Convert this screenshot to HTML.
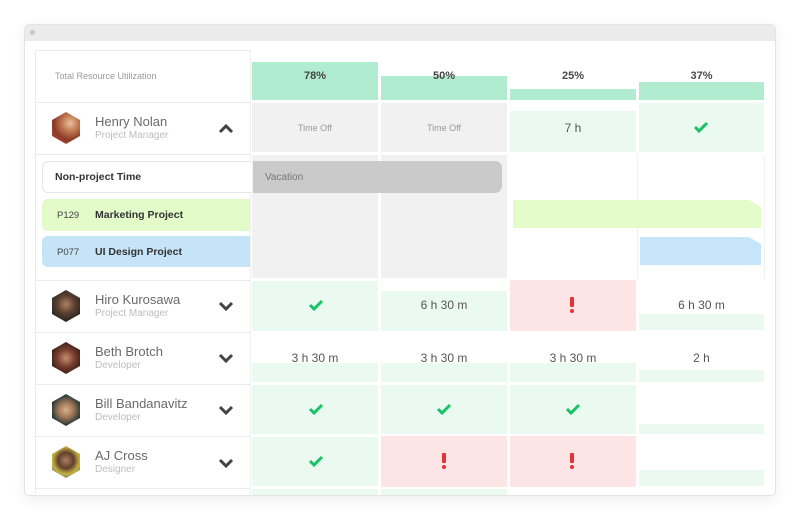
<!DOCTYPE html>
<html><head><meta charset="utf-8">
<style>
*{margin:0;padding:0;box-sizing:border-box}
html,body{width:800px;height:521px;background:#fff;overflow:hidden;font-family:"Liberation Sans",sans-serif}
.win{position:absolute;left:24px;top:24px;width:752px;height:472px;border:1px solid #e4e4e4;border-radius:5px;box-shadow:0 4px 14px rgba(0,0,0,0.07);overflow:hidden;background:#fff}
.tb{position:absolute;left:0;top:0;width:100%;height:16px;background:#ebebeb}
.dot{position:absolute;left:5px;top:5px;width:5px;height:5px;border-radius:50%;background:#c9c9c9}
.a{position:absolute}
.t{position:absolute;white-space:nowrap}
.hline{position:absolute;left:35px;width:215px;height:1px;background:#ebebeb}
.name{position:absolute;left:95px;font-size:13px;color:#6a6a6a}
.role{position:absolute;left:95px;font-size:10px;color:#bdbdbd}
.hex{position:absolute;left:52px;width:28px;height:32px;clip-path:polygon(50% 0,100% 25%,100% 75%,50% 100%,0 75%,0 25%)}
.g{background:#eafaf1}
.r{background:#fde5e5}
.gr{background:#f1f1f1}
.bar{background:#b1ecd1}
.ctxt{position:absolute;text-align:center;font-size:12px;color:#555}
</style></head><body>
<div class="win">
 <div class="tb"><div class="dot"></div></div>
</div>
<!-- left panel borders -->
<div class="a" style="left:35px;top:50px;width:215px;height:1px;background:#ebebeb"></div>
<div class="a" style="left:35px;top:50px;width:1px;height:446px;background:#ebebeb"></div>
<div class="a" style="left:250px;top:50px;width:1px;height:446px;background:#f0f0f0"></div>
<div class="hline" style="top:102px"></div>
<div class="hline" style="top:154px"></div>
<div class="hline" style="top:280px"></div>
<div class="hline" style="top:332px"></div>
<div class="hline" style="top:384px"></div>
<div class="hline" style="top:436px"></div>
<div class="hline" style="top:488px"></div>

<div class="t" style="left:55px;top:71px;font-size:9px;color:#9a9a9a">Total Resource Utilization</div>

<!-- header bars -->
<div class="a bar" style="left:252px;top:62px;width:126px;height:38px"></div>
<div class="a bar" style="left:381px;top:76px;width:126px;height:24px"></div>
<div class="a bar" style="left:510px;top:89px;width:126px;height:11px"></div>
<div class="a bar" style="left:639px;top:82px;width:125px;height:18px"></div>
<div class="t" style="left:252px;width:126px;top:70px;text-align:center;font-size:11px;font-weight:bold;color:#444">78%</div>
<div class="t" style="left:381px;width:126px;top:70px;text-align:center;font-size:11px;font-weight:bold;color:#444">50%</div>
<div class="t" style="left:510px;width:126px;top:70px;text-align:center;font-size:11px;font-weight:bold;color:#4a4a4a">25%</div>
<div class="t" style="left:639px;width:125px;top:70px;text-align:center;font-size:11px;font-weight:bold;color:#4a4a4a">37%</div>

<!-- Henry row -->
<div class="hex" style="top:112px;background:radial-gradient(circle at 65% 35%,#e8c0a0 0,#c07850 30%,#8a3a28 60%,#d05040 100%)"></div>
<div class="name" style="top:114px">Henry Nolan</div>
<div class="role" style="top:130px">Project Manager</div>
<svg class="a" style="left:218px;top:123px" width="16" height="11"><polyline points="2,9 8,3 14,9" fill="none" stroke="#444" stroke-width="3"/></svg>

<div class="a gr" style="left:252px;top:103px;width:126px;height:49px"></div>
<div class="a gr" style="left:381px;top:103px;width:126px;height:49px"></div>
<div class="t" style="left:252px;width:126px;top:123px;text-align:center;font-size:9px;color:#999">Time Off</div>
<div class="t" style="left:381px;width:126px;top:123px;text-align:center;font-size:9px;color:#999">Time Off</div>
<div class="a g" style="left:510px;top:111px;width:126px;height:41px"></div>
<div class="ctxt" style="left:510px;width:126px;top:121px">7 h</div>
<div class="a g" style="left:639px;top:103px;width:125px;height:49px"></div>
<svg class="a" style="left:693px;top:121px" width="16" height="12"><polyline points="2,6 6,10 14,2" fill="none" stroke="#1ac265" stroke-width="3"/></svg>

<!-- expanded area -->
<div class="a gr" style="left:252px;top:155px;width:126px;height:123px"></div>
<div class="a gr" style="left:381px;top:155px;width:126px;height:123px"></div>
<div class="a" style="left:637px;top:155px;width:1px;height:123px;background:#f0f0f0"></div>
<div class="a" style="left:764px;top:155px;width:1px;height:123px;background:#f0f0f0"></div>
<div class="a" style="left:253px;top:161px;width:249px;height:32px;background:#cacaca;border-radius:0 7px 7px 0"></div>
<div class="t" style="left:265px;top:172px;font-size:10px;color:#777">Vacation</div>

<div class="a" style="left:42px;top:161px;width:209px;height:32px;border:1px solid #e6e6e6;border-right:none;border-radius:6px 0 0 6px;background:#fff"></div>
<div class="t" style="left:55px;top:171px;font-size:10.5px;font-weight:bold;color:#333">Non-project Time</div>
<div class="a" style="left:42px;top:199px;width:208px;height:32px;background:#e2fbc9;border-radius:6px 0 0 6px"></div>
<div class="t" style="left:57px;top:210px;font-size:9.5px;color:#444">P129</div>
<div class="t" style="left:95px;top:209px;font-size:10.5px;font-weight:bold;color:#333">Marketing Project</div>
<div class="a" style="left:42px;top:236px;width:208px;height:31px;background:#c5e4f8;border-radius:6px 0 0 6px"></div>
<div class="t" style="left:57px;top:247px;font-size:9.5px;color:#444">P077</div>
<div class="t" style="left:95px;top:246px;font-size:10.5px;font-weight:bold;color:#333">UI Design Project</div>

<div class="a" style="left:513px;top:200px;width:248px;height:28px;background:#e3fcc9;clip-path:polygon(0 0,95.2% 0,100% 25%,100% 100%,0 100%)"></div>
<div class="a" style="left:640px;top:237px;width:121px;height:28px;background:#c6e5f9;clip-path:polygon(0 0,90% 0,100% 25%,100% 100%,0 100%)"></div>

<!-- Hiro -->
<div class="hex" style="top:290px;background:radial-gradient(circle at 50% 45%,#b08060 0,#5a4030 40%,#2a2520 75%,#707050 100%)"></div>
<div class="name" style="top:292px">Hiro Kurosawa</div>
<div class="role" style="top:308px">Project Manager</div>
<svg class="a" style="left:218px;top:301px" width="16" height="11"><polyline points="2,2 8,8 14,2" fill="none" stroke="#444" stroke-width="3"/></svg>
<div class="a g" style="left:252px;top:281px;width:126px;height:50px"></div>
<svg class="a" style="left:308px;top:299px" width="16" height="12"><polyline points="2,6 6,10 14,2" fill="none" stroke="#1ac265" stroke-width="3"/></svg>
<div class="a g" style="left:381px;top:291px;width:126px;height:40px"></div>
<div class="ctxt" style="left:381px;width:126px;top:298px">6 h 30 m</div>
<div class="a r" style="left:510px;top:280px;width:126px;height:51px"></div>
<svg class="a" style="left:569px;top:297px" width="6" height="16"><rect x="1" y="0" width="4" height="10" rx="1" fill="#e8323a"/><circle cx="3" cy="14" r="2" fill="#e8323a"/></svg>
<div class="a g" style="left:639px;top:314px;width:125px;height:16px"></div>
<div class="ctxt" style="left:639px;width:125px;top:298px">6 h 30 m</div>

<!-- Beth -->
<div class="hex" style="top:342px;background:radial-gradient(circle at 50% 50%,#c89070 0,#7a4030 40%,#3a2018 75%,#2a1a14 100%)"></div>
<div class="name" style="top:344px">Beth Brotch</div>
<div class="role" style="top:360px">Developer</div>
<svg class="a" style="left:218px;top:353px" width="16" height="11"><polyline points="2,2 8,8 14,2" fill="none" stroke="#444" stroke-width="3"/></svg>
<div class="a g" style="left:252px;top:363px;width:126px;height:19px"></div>
<div class="a g" style="left:381px;top:363px;width:126px;height:19px"></div>
<div class="a g" style="left:510px;top:363px;width:126px;height:19px"></div>
<div class="a g" style="left:639px;top:370px;width:125px;height:12px"></div>
<div class="ctxt" style="left:252px;width:126px;top:351px">3 h 30 m</div>
<div class="ctxt" style="left:381px;width:126px;top:351px">3 h 30 m</div>
<div class="ctxt" style="left:510px;width:126px;top:351px">3 h 30 m</div>
<div class="ctxt" style="left:639px;width:125px;top:351px">2 h</div>

<!-- Bill -->
<div class="hex" style="top:394px;background:radial-gradient(circle at 50% 50%,#d8b090 0,#a07858 35%,#2a3a38 70%,#1a2a2a 100%)"></div>
<div class="name" style="top:396px">Bill Bandanavitz</div>
<div class="role" style="top:412px">Developer</div>
<svg class="a" style="left:218px;top:405px" width="16" height="11"><polyline points="2,2 8,8 14,2" fill="none" stroke="#444" stroke-width="3"/></svg>
<div class="a g" style="left:252px;top:385px;width:126px;height:49px"></div>
<div class="a g" style="left:381px;top:385px;width:126px;height:49px"></div>
<div class="a g" style="left:510px;top:385px;width:126px;height:49px"></div>
<div class="a g" style="left:639px;top:424px;width:125px;height:10px"></div>
<svg class="a" style="left:308px;top:403px" width="16" height="12"><polyline points="2,6 6,10 14,2" fill="none" stroke="#1ac265" stroke-width="3"/></svg>
<svg class="a" style="left:436px;top:403px" width="16" height="12"><polyline points="2,6 6,10 14,2" fill="none" stroke="#1ac265" stroke-width="3"/></svg>
<svg class="a" style="left:565px;top:403px" width="16" height="12"><polyline points="2,6 6,10 14,2" fill="none" stroke="#1ac265" stroke-width="3"/></svg>

<!-- AJ -->
<div class="hex" style="top:446px;background:radial-gradient(circle at 50% 45%,#b08060 0,#604030 35%,#c8b040 60%,#3060a0 100%)"></div>
<div class="name" style="top:448px">AJ Cross</div>
<div class="role" style="top:464px">Designer</div>
<svg class="a" style="left:218px;top:458px" width="16" height="11"><polyline points="2,2 8,8 14,2" fill="none" stroke="#444" stroke-width="3"/></svg>
<div class="a g" style="left:252px;top:437px;width:126px;height:49px"></div>
<svg class="a" style="left:308px;top:455px" width="16" height="12"><polyline points="2,6 6,10 14,2" fill="none" stroke="#1ac265" stroke-width="3"/></svg>
<div class="a r" style="left:381px;top:436px;width:126px;height:51px"></div>
<div class="a r" style="left:510px;top:436px;width:126px;height:51px"></div>
<svg class="a" style="left:441px;top:453px" width="6" height="16"><rect x="1" y="0" width="4" height="10" rx="1" fill="#e8323a"/><circle cx="3" cy="14" r="2" fill="#e8323a"/></svg>
<svg class="a" style="left:569px;top:453px" width="6" height="16"><rect x="1" y="0" width="4" height="10" rx="1" fill="#e8323a"/><circle cx="3" cy="14" r="2" fill="#e8323a"/></svg>
<div class="a g" style="left:639px;top:470px;width:125px;height:16px"></div>

<!-- last partial row -->
<div class="a g" style="left:252px;top:489px;width:126px;height:6px"></div>
<div class="a g" style="left:381px;top:489px;width:126px;height:6px"></div>
</body></html>
